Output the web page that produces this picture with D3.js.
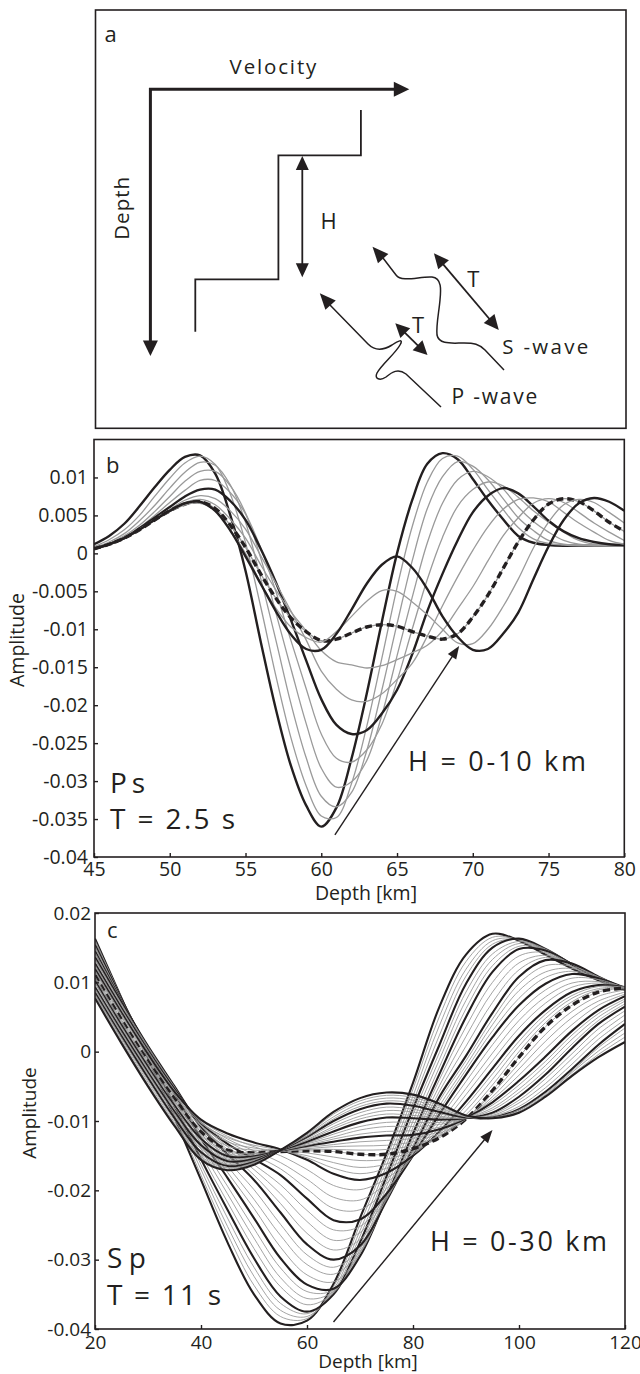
<!doctype html>
<html>
<head>
  <meta charset="utf8">
  <title>Ps and Sp waveforms across a velocity gradient</title>
  <style>
    body {
      margin: 0;
      padding: 0;
      background: #fff;
    }
    svg {
      display: block;
      font-family: 'Open Sans', sans-serif;
    }
  </style>
</head>
<body>
  <svg id="chart"></svg>

  <script src="https://cdn.jsdelivr.net/npm/d3@7"></script>
  <script>
    // Amplitudes are kept in units of 0.001

    // b: Ps, T = 2.5 s, one curve per gradient thickness H (km)
    const psDepth = [45, 46, 47, 48, 49, 50, 51, 52, 53, 54, 55, 56, 57, 58, 59, 60, 61, 62,
      63, 64, 65, 66, 67, 68, 69, 70, 71, 72, 73, 74, 75, 76, 77, 78, 79, 80]
    const psH = [0, 1, 2, 3, 4, 5, 6, 7, 8, 9, 10]
    const psAmp = [
      [1.2, 2.3, 3.9, 6.2, 8.7, 11.0, 12.7, 12.9, 10.5, 5.0, -2.3, -11.6, -20.5, -28, -33.2, -36, -33.5, -27, -18.5, -9, 0, 7, 11.8, 13.2, 12.4, 9.8, 7.0, 4.5, 2.3, 1.4, 1.1, 1.0, 1.0, 1.0, 1.0, 1.0],
      [0.9, 1.8, 3.1, 5.0, 7.5, 9.9, 11.9, 12.8, 11.7, 7.8, 1.4, -7.0, -16.1, -24.3, -30.6, -34.6, -34.8, -30.3, -22.8, -13.8, -4.5, 3.5, 9.4, 12.5, 12.8, 11.1, 8.4, 5.8, 3.4, 1.9, 1.3, 1.1, 1.0, 1.0, 1.0, 1.0],
      [0.8, 1.5, 2.6, 4.3, 6.3, 8.6, 10.7, 12.0, 11.6, 9.0, 4.1, -3.3, -11.4, -19.8, -26.9, -32, -33.4, -31.5, -26, -18, -9.3, -1, 5.9, 10.1, 12.1, 11.5, 9.7, 7.2, 4.7, 3.0, 1.7, 1.2, 1.1, 1.0, 1.0, 1.0],
      [0.7, 1.3, 2.3, 3.7, 5.5, 7.5, 9.5, 10.8, 10.8, 8.9, 5.3, -0.6, -7.8, -15.2, -22.4, -28.3, -30.8, -30.1, -27.3, -21.3, -13.5, -5.8, 1.4, 6.6, 9.7, 10.8, 10.1, 8.5, 6.1, 4.2, 2.8, 1.7, 1.2, 1.1, 1.0, 1.0],
      [0.6, 1.2, 2.1, 3.4, 5.0, 6.7, 8.3, 9.6, 9.6, 8, 5.2, 0.7, -5, -11.5, -17.8, -23.8, -27, -27.5, -25.9, -22.5, -16.8, -10, -3.4, 2.1, 6.2, 8.4, 9.4, 8.9, 7.4, 5.6, 4.1, 2.8, 1.7, 1.2, 1.1, 1.0],
      [0.6, 1.2, 2.0, 3.3, 4.7, 6.1, 7.5, 8.4, 8.4, 6.9, 4.4, 0.6, -3.8, -8.8, -14.1, -19.2, -22.6, -23.8, -23.3, -21.1, -18, -13.3, -7.6, -2.7, 1.7, 5.4, 7.6, 8.6, 7.9, 6.2, 4.3, 2.9, 2.0, 1.5, 1.2, 1.1],
      [0.6, 1.2, 2.0, 3.2, 4.5, 5.8, 7.0, 7.6, 7.2, 5.6, 3.2, -0.3, -3.9, -7.6, -11.4, -15.5, -17.9, -19.3, -19.5, -18.5, -16.6, -14.5, -10.9, -6.9, -3.1, 0.4, 3.5, 5.8, 7.1, 7.3, 6.8, 5.4, 4, 2.8, 1.7, 1.2],
      [0.6, 1.2, 2.0, 3.1, 4.4, 5.7, 6.7, 7.1, 6.4, 4.5, 2.0, -1.5, -4.8, -7.7, -10.2, -12.8, -14.3, -14.7, -15.1, -14.8, -14, -13.1, -12.1, -10.2, -7.3, -4.4, -1, 2.3, 4.7, 6.6, 7.2, 6.7, 5.4, 4, 2.8, 1.7],
      [0.6, 1.2, 2.0, 3.1, 4.4, 5.6, 6.5, 6.8, 5.9, 3.7, 0.8, -2.7, -5.9, -8.5, -10.3, -11.5, -11.3, -10.5, -9.7, -9.4, -9.6, -10.3, -10.9, -11.3, -10.6, -8.4, -5.5, -2.0, 1.5, 4.4, 6.5, 7.2, 6.8, 5.6, 4.1, 2.9],
      [0.6, 1.2, 2.0, 3.1, 4.4, 5.5, 6.4, 6.6, 5.6, 3.1, 0, -3.9, -7.2, -9.7, -11.1, -11.7, -10.3, -8.3, -6.3, -4.9, -5.0, -6.4, -8.1, -10, -11.8, -11.9, -10, -7, -3.4, 0.7, 4.1, 6.4, 7.1, 6.7, 5.4, 4],
      [0.6, 1.2, 2.0, 3.1, 4.4, 5.6, 6.6, 6.8, 5.6, 3.0, -0.4, -4.0, -7.6, -10.7, -12.6, -12.7, -10.6, -7.4, -4.0, -1.5, -0.4, -1.9, -4.7, -8.3, -11.0, -12.7, -12.6, -10.6, -7.8, -3.4, 0.9, 4.4, 6.6, 7.3, 6.8, 5.6]
    ]
    const psBold = [0, 5, 10]
    const psDashed = 8
    const psXTicks = [45, 50, 55, 60, 65, 70, 75, 80]
    const psYTicks = [-40, -35, -30, -25, -20, -15, -10, -5, 0, 5, 10]

    // c: Sp, T = 11 s, H = 0..30 km
    const spDepth = [20, 25, 30, 35, 40, 45, 50, 55, 60, 65, 70, 75, 80, 85, 90, 95, 100, 105, 110, 115, 120]
    const spH = [0, 0.75, 1.5, 2.25, 3, 3.75, 4.5, 5.25, 6, 6.75, 7.5, 8.25, 9, 9.75, 10.5, 11.25,
      12, 12.75, 13.5, 14.25, 15, 15.75, 16.5, 17.25, 18, 18.75, 19.5, 20.25, 21, 21.75, 22.5,
      23.25, 24, 24.75, 25.5, 26.25, 27, 27.75, 28.5, 29.25, 30]
    const spAmp = [
      [16.3, 7.7, -0.9, -9.5, -18.5, -27.5, -35, -39.2, -38.8, -33.5, -24, -14.7, -4.5, 6.5, 14, 17, 16, 14, 12, 10.3, 8.9],
      [16.1, 7.7, -0.7, -9.1, -17.8, -26.3, -33.7, -38.2, -38.5, -33.9, -24.9, -15.5, -5.4, 5.1, 13, 16.5, 16.1, 14.2, 12.2, 10.4, 8.9],
      [15.9, 7.7, -0.5, -8.7, -17, -25.2, -32.4, -37.3, -38.2, -34.3, -25.8, -16.4, -6.4, 3.8, 11.9, 16, 16.2, 14.4, 12.3, 10.5, 9.0],
      [15.6, 7.6, -0.2, -8.2, -16.3, -24, -31.1, -36.3, -37.8, -34.6, -26.6, -17.2, -7.3, 2.4, 10.9, 15.5, 16.2, 14.6, 12.5, 10.5, 9.0],
      [15.4, 7.6, 0.0, -7.8, -15.5, -22.8, -29.8, -35.3, -37.5, -35, -27.5, -18, -8.2, 1, 9.8, 15, 16.3, 14.8, 12.6, 10.6, 9],
      [15.2, 7.5, 0.1, -7.4, -14.8, -21.7, -28.4, -33.9, -36.5, -34.8, -28, -18.8, -9.1, -0.1, 8.6, 14.1, 15.9, 14.8, 12.6, 10.6, 9],
      [15.0, 7.5, 0.3, -6.9, -14, -20.5, -26.9, -32.6, -35.6, -34.6, -28.5, -19.5, -10, -1.1, 7.4, 13.3, 15.6, 14.7, 12.6, 10.6, 9],
      [14.7, 7.4, 0.4, -6.5, -13.3, -19.4, -25.5, -31.2, -34.6, -34.4, -29, -20.3, -10.9, -2.2, 6.2, 12.4, 15.2, 14.7, 12.6, 10.6, 9],
      [14.5, 7.3, 0.5, -6, -12.5, -18.2, -24, -29.8, -33.6, -34.2, -29.5, -21, -11.8, -3.2, 5, 11.5, 14.8, 14.6, 12.6, 10.6, 9],
      [14.3, 7.3, 0.6, -5.8, -12.1, -17.4, -22.6, -28.2, -32.2, -33.2, -29.1, -21.1, -12.4, -4.0, 3.6, 10, 13.8, 14.3, 12.6, 10.7, 9],
      [14.1, 7.2, 0.7, -5.5, -11.7, -16.5, -21.3, -26.5, -30.7, -32.1, -28.8, -21.3, -12.9, -4.9, 2.2, 8.6, 12.8, 13.9, 12.7, 10.7, 9],
      [13.8, 7.2, 0.7, -5.3, -11.2, -15.7, -19.9, -24.9, -29.3, -31.1, -28.4, -21.4, -13.5, -5.7, 0.8, 7.1, 11.8, 13.6, 12.7, 10.8, 9],
      [13.6, 7.1, 0.8, -5, -10.8, -14.8, -18.5, -23.2, -27.8, -30, -28, -21.5, -14, -6.5, -0.6, 5.6, 10.8, 13.2, 12.7, 10.8, 9],
      [13.4, 6.9, 0.7, -5.1, -10.7, -14.4, -17.8, -21.9, -26.2, -28.6, -27.1, -21.3, -14.3, -7.1, -1.3, 4.7, 9.8, 12.4, 12.3, 10.8, 9.1],
      [13.2, 6.7, 0.5, -5.2, -10.6, -14.1, -17, -20.5, -24.5, -27.2, -26.1, -21, -14.5, -7.8, -2.0, 3.9, 8.8, 11.5, 12.0, 10.7, 9.1],
      [12.9, 6.5, 0.4, -5.3, -10.4, -13.7, -16.3, -19.2, -22.9, -25.7, -25.2, -20.8, -14.8, -8.4, -2.6, 3.0, 7.7, 10.7, 11.6, 10.7, 9.2],
      [12.7, 6.3, 0.2, -5.4, -10.3, -13.3, -15.5, -17.8, -21.2, -24.3, -24.2, -20.5, -15, -9, -3.3, 2.1, 6.7, 9.8, 11.2, 10.6, 9.2],
      [12.5, 6.1, 0.1, -5.5, -10.2, -12.9, -14.9, -16.9, -19.8, -22.6, -22.8, -19.8, -15, -9.6, -4.3, 1.0, 5.6, 8.9, 10.6, 10.4, 9.2],
      [12.3, 6.0, -0.1, -5.6, -10.1, -12.6, -14.3, -16.0, -18.4, -21.0, -21.4, -19, -15, -10.3, -5.3, -0.2, 4.5, 7.9, 9.9, 10.1, 9.3],
      [12.1, 5.8, -0.3, -5.7, -9.9, -12.2, -13.7, -15.0, -17, -19.3, -19.9, -18.3, -15, -10.9, -6.2, -1.3, 3.4, 7.0, 9.3, 9.9, 9.3],
      [11.9, 5.6, -0.4, -5.8, -9.8, -11.8, -13.1, -14.1, -15.6, -17.6, -18.5, -17.5, -15, -11.5, -7.2, -2.4, 2.3, 6, 8.6, 9.6, 9.3],
      [11.7, 5.4, -0.7, -6.1, -10.3, -12.4, -13.5, -14.2, -15.3, -16.8, -17.6, -16.8, -14.8, -11.7, -7.8, -3.2, 1.5, 5.4, 8.1, 9.4, 9.3],
      [11.5, 5.1, -0.9, -6.3, -10.7, -13, -13.9, -14.3, -15.0, -16, -16.7, -16.2, -14.5, -12.0, -8.5, -4, 0.8, 4.8, 7.7, 9.1, 9.3],
      [11.2, 4.9, -1.2, -6.6, -11.2, -13.6, -14.2, -14.3, -14.6, -15.2, -15.7, -15.5, -14.3, -12.2, -9.1, -4.8, 0.0, 4.2, 7.2, 8.9, 9.2],
      [11.0, 4.6, -1.4, -6.8, -11.6, -14.2, -14.6, -14.4, -14.3, -14.4, -14.8, -14.8, -14, -12.4, -9.7, -5.6, -0.8, 3.6, 6.7, 8.6, 9.2],
      [10.8, 4.4, -1.6, -7.1, -11.9, -14.4, -14.7, -14.4, -14.1, -14.1, -14.2, -14.1, -13.5, -12.1, -9.7, -6.0, -1.7, 2.5, 5.8, 8.0, 8.9],
      [10.6, 4.2, -1.8, -7.3, -12.1, -14.7, -14.9, -14.4, -14.0, -13.7, -13.6, -13.5, -13, -11.8, -9.7, -6.5, -2.5, 1.5, 4.9, 7.3, 8.6],
      [10.4, 4.0, -2.0, -7.6, -12.4, -14.9, -15.0, -14.3, -13.8, -13.4, -13, -12.8, -12.5, -11.5, -9.6, -6.9, -3.4, 0.4, 3.9, 6.7, 8.3],
      [10.2, 3.8, -2.2, -7.8, -12.6, -15.1, -15.1, -14.3, -13.6, -13, -12.4, -12.1, -12, -11.2, -9.6, -7.3, -4.2, -0.7, 3, 6, 8],
      [10.0, 3.6, -2.4, -8.0, -12.8, -15.3, -15.2, -14.3, -13.5, -12.6, -11.9, -11.5, -11.4, -10.9, -9.6, -7.7, -4.8, -1.4, 2.4, 5.5, 7.6],
      [9.8, 3.4, -2.6, -8.3, -13.1, -15.5, -15.3, -14.3, -13.3, -12.3, -11.3, -10.8, -10.8, -10.5, -9.6, -8.1, -5.4, -2, 1.8, 5, 7.3],
      [9.5, 3.2, -2.8, -8.5, -13.3, -15.6, -15.4, -14.2, -13.2, -11.9, -10.8, -10.2, -10.2, -10.2, -9.6, -8.4, -5.9, -2.7, 1.1, 4.5, 6.9],
      [9.3, 3.0, -3.0, -8.7, -13.5, -15.8, -15.5, -14.2, -13, -11.5, -10.2, -9.5, -9.6, -9.8, -9.6, -8.8, -6.5, -3.3, 0.5, 4, 6.5],
      [9.1, 2.8, -3.2, -8.9, -13.8, -16.0, -15.6, -14.2, -12.8, -11.1, -9.7, -9, -9.2, -9.5, -9.6, -9.0, -7.0, -3.9, -0.3, 3.3, 5.9],
      [8.9, 2.6, -3.4, -9.2, -14, -16.2, -15.7, -14.2, -12.7, -10.8, -9.3, -8.5, -8.7, -9.3, -9.6, -9.2, -7.4, -4.6, -1, 2.5, 5.3],
      [8.7, 2.4, -3.6, -9.4, -14.3, -16.3, -15.8, -14.2, -12.5, -10.4, -8.8, -8, -8.3, -9.0, -9.5, -9.3, -7.9, -5.2, -1.8, 1.8, 4.6],
      [8.5, 2.2, -3.8, -9.6, -14.5, -16.5, -15.9, -14.2, -12.3, -10, -8.3, -7.5, -7.8, -8.7, -9.5, -9.5, -8.3, -5.8, -2.5, 1, 4],
      [8.3, 2.0, -4.1, -9.9, -14.8, -16.7, -16, -14.2, -12.2, -9.7, -7.9, -7.1, -7.4, -8.4, -9.4, -9.5, -8.4, -6.0, -2.8, 0.6, 3.4],
      [8.1, 1.7, -4.4, -10.2, -15.1, -16.8, -16.1, -14.2, -12, -9.4, -7.5, -6.7, -7, -8.1, -9.4, -9.6, -8.6, -6.2, -3, 0.1, 2.7],
      [7.9, 1.5, -4.7, -10.4, -15.3, -17.0, -16.2, -14.2, -11.9, -9.0, -7.1, -6.3, -6.6, -7.8, -9.3, -9.6, -8.7, -6.3, -3.3, -0.4, 2.1],
      [7.7, 1.2, -5, -10.7, -15.6, -17.1, -16.3, -14.2, -11.7, -8.7, -6.7, -5.9, -6.2, -7.5, -9.2, -9.6, -8.8, -6.5, -3.5, -0.8, 1.4]
    ]
    const spBold = [0, 3, 6, 9, 12, 15, 21, 24, 27, 30]
    const spDashed = 18
    const spXTicks = [20, 40, 60, 80, 100, 120]
    const spYTicks = [-40, -30, -20, -10, 0, 10, 20]

    const ink = '#231f20'
    const grey = '#9a9a9a'

    const svg = d3.select('#chart')
      .attr('width', 640)
      .attr('height', 1374)

    // filled arrow head at (x2, y2), pointing away from (x1, y1)
    function head (g, x1, y1, x2, y2, len, half) {
      const a = Math.atan2(y2 - y1, x2 - x1)
      const bx = x2 - len * Math.cos(a)
      const by = y2 - len * Math.sin(a)
      const nx = -Math.sin(a) * half
      const ny = Math.cos(a) * half
      g.append('path')
        .attr('d', `M${x2},${y2}L${bx + nx},${by + ny}L${bx - nx},${by - ny}Z`)
        .attr('fill', ink)
    }

    function arrow (g, x1, y1, x2, y2, opts) {
      const { width, len, half, both } = opts
      const a = Math.atan2(y2 - y1, x2 - x1)
      const trim = len * 0.7
      const sx = both ? x1 + trim * Math.cos(a) : x1
      const sy = both ? y1 + trim * Math.sin(a) : y1
      g.append('line')
        .attr('x1', sx).attr('y1', sy)
        .attr('x2', x2 - trim * Math.cos(a)).attr('y2', y2 - trim * Math.sin(a))
        .attr('stroke', ink)
        .attr('stroke-width', width)
      head(g, x1, y1, x2, y2, len, half)
      if (both) head(g, x2, y2, x1, y1, len, half)
    }

    function label (g, txt, x, y, size, length) {
      const t = g.append('text')
        .attr('x', x)
        .attr('y', y)
        .attr('font-size', size)
        .attr('fill', ink)
        .text(txt)
      if (length) t.attr('textLength', length).attr('lengthAdjust', 'spacing')
      return t
    }

    // ---- a: schematic ----
    const ga = svg.append('g')
    ga.append('rect')
      .attr('x', 95.5).attr('y', 10)
      .attr('width', 530.5).attr('height', 418.3)
      .attr('fill', 'none')
      .attr('stroke', ink)
      .attr('stroke-width', 1.6)

    label(ga, 'a', 104.5, 41.5, 22)
    label(ga, 'Velocity', 229.6, 73.5, 20.5, 86.7)
    ga.append('text')
      .attr('transform', 'translate(129,208.3) rotate(-90)')
      .attr('text-anchor', 'middle')
      .attr('font-size', 20.5)
      .attr('fill', ink)
      .attr('textLength', 63)
      .attr('lengthAdjust', 'spacing')
      .text('Depth')

    ga.append('path')
      .attr('d', 'M150.4,352L150.4,89.3L395,89.3')
      .attr('fill', 'none')
      .attr('stroke', ink)
      .attr('stroke-width', 3)
    head(ga, 150.4, 300, 150.4, 356, 15.5, 7.5)
    head(ga, 350, 89.3, 409.3, 89.3, 15.5, 7.5)

    ga.append('path')
      .attr('d', 'M195.3,331.7V279.3H278.4V155.3H360.9V110')
      .attr('fill', 'none')
      .attr('stroke', ink)
      .attr('stroke-width', 1.8)

    arrow(ga, 302.3, 156, 302.3, 277.3, { width: 1.8, len: 14, half: 6.5, both: true })
    label(ga, 'H', 320.5, 229.3, 22)

    // P-wave
    ga.append('path')
      .attr('d', 'M330,305 L368,344 C376,352 384,350 392,345 C398,341 404,338 400,345 C395,354 382,364 377,373 C374,379 380,381 386,377 C392,372 398,368 406,374 L441,407')
      .attr('fill', 'none')
      .attr('stroke', ink)
      .attr('stroke-width', 1.5)
    head(ga, 335, 310, 319.8, 293.3, 16, 7)
    arrow(ga, 395.3, 323.3, 427.5, 355, { width: 1.8, len: 14, half: 7, both: true })
    label(ga, 'T', 412, 333.3, 22)
    label(ga, 'P -wave', 451.4, 404, 21, 86)

    // S-wave
    ga.append('path')
      .attr('d', 'M383,258 L396,275 C402,283 420,276 432,277 C442,278 441,290 440,300 C439,312 436,325 437,335 C439,345 452,343 464,343 C474,343 479,344 485,350 L504,370')
      .attr('fill', 'none')
      .attr('stroke', ink)
      .attr('stroke-width', 1.5)
    head(ga, 388, 264, 372.5, 246.7, 16, 7)
    arrow(ga, 433.9, 253.3, 498.8, 330, { width: 1.8, len: 15, half: 7, both: true })
    label(ga, 'T', 467.2, 286.7, 22)
    label(ga, 'S -wave', 502.3, 354, 20.5, 86)

    // ---- b and c: waveform panels ----
    function panel (p) {
      const x = d3.scaleLinear().domain(p.xDomain).range([p.left, p.right])
      const y = d3.scaleLinear().domain(p.yDomain).range([p.bottom, p.top])
      const g = svg.append('g')

      svg.append('clipPath')
        .attr('id', 'clip-' + p.name)
        .append('rect')
        .attr('x', p.left).attr('y', p.top)
        .attr('width', p.right - p.left).attr('height', p.bottom - p.top)

      const line = d3.line()
        .x((d, i) => x(p.depth[i]))
        .y(d => y(d))
        .curve(d3.curveCatmullRom.alpha(0.5))

      const lines = g.append('g').attr('clip-path', `url(#clip-${p.name})`)

      // drawn in order of H, so later thin lines can cross over earlier bold ones
      p.h.forEach((h, i) => {
        const bold = p.bold.includes(h)
        lines.append('path')
          .attr('d', line(p.amp[i]))
          .attr('fill', 'none')
          .attr('stroke', bold ? ink : grey)
          .attr('stroke-width', bold ? p.boldWidth : p.thinWidth)
        if (h === p.dashed) {
          lines.append('path')
            .attr('d', line(p.amp[i]))
            .attr('fill', 'none')
            .attr('stroke', ink)
            .attr('stroke-width', p.dashWidth)
            .attr('stroke-dasharray', p.dashArray)
        }
      })

      const fmt = d => d === 0 ? '0' : String(d / 1000)

      const yAxis = g.append('g')
        .attr('transform', `translate(${p.left},0)`)
        .call(d3.axisLeft(y).tickValues(p.yTicks).tickSize(-4).tickPadding(p.yPad).tickFormat(fmt))
      const xAxis = g.append('g')
        .attr('transform', `translate(0,${p.bottom})`)
        .call(d3.axisBottom(x).tickValues(p.xTicks).tickSize(-4).tickPadding(p.xPad))

      ;[yAxis, xAxis].forEach(ax => {
        ax.select('.domain').remove()
        ax.selectAll('line').attr('stroke', ink).attr('stroke-width', 1.4)
        ax.selectAll('text')
          .attr('font-size', p.tickSize)
          .attr('font-family', "'Open Sans', sans-serif")
          .attr('fill', ink)
      })

      g.append('rect')
        .attr('x', p.left).attr('y', p.top)
        .attr('width', p.right - p.left).attr('height', p.bottom - p.top)
        .attr('fill', 'none')
        .attr('stroke', ink)
        .attr('stroke-width', 1.6)

      g.append('text')
        .attr('x', p.xTitle[0]).attr('y', p.xTitle[1])
        .attr('text-anchor', 'middle')
        .attr('font-size', p.titleSize)
        .attr('fill', ink)
        .text('Depth [km]')
      g.append('text')
        .attr('transform', `translate(${p.yTitle[0]},${p.yTitle[1]}) rotate(-90)`)
        .attr('text-anchor', 'middle')
        .attr('font-size', p.titleSize)
        .attr('fill', ink)
        .text('Amplitude')

      const [fx, fy] = p.arrow[0]
      const [tx, ty] = p.arrow[1]
      arrow(g, x(fx), y(fy), x(tx), y(ty), { width: 1.4, len: 13, half: 5, both: false })

      p.notes.forEach(n => label(g, n.text, n.x, n.y, n.size, n.length))
    }

    panel({
      name: 'ps',
      depth: psDepth, h: psH, amp: psAmp, bold: psBold, dashed: psDashed,
      xTicks: psXTicks, yTicks: psYTicks,
      xDomain: [45, 80], yDomain: [-40, 15],
      left: 94, right: 624.3, top: 439.5, bottom: 857,
      boldWidth: 2.4, thinWidth: 1.3, dashWidth: 3.4, dashArray: '7,4',
      tickSize: 19.5, titleSize: 19.5, yPad: 6, xPad: 5,
      xTitle: [366, 900], yTitle: [24, 640],
      arrow: [[60.9, -37.1], [69.1, -12.2]],
      notes: [
        { text: 'b', x: 106, y: 473, size: 22 },
        { text: 'P s', x: 110, y: 793, size: 28, length: 35 },
        { text: 'T = 2.5 s', x: 110, y: 829, size: 28, length: 125 },
        { text: 'H = 0-10 km', x: 408, y: 771, size: 27, length: 178 }
      ]
    })

    panel({
      name: 'sp',
      depth: spDepth, h: spH, amp: spAmp, bold: spBold, dashed: spDashed,
      xTicks: spXTicks, yTicks: spYTicks,
      xDomain: [20, 120], yDomain: [-40, 20],
      left: 95, right: 625, top: 913, bottom: 1329,
      boldWidth: 2.1, thinWidth: 0.9, dashWidth: 3.4, dashArray: '7,4',
      tickSize: 19, titleSize: 19, yPad: 4, xPad: 6,
      xTitle: [368, 1367.5], yTitle: [36, 1113],
      arrow: [[65, -39], [95, -11.3]],
      notes: [
        { text: 'c', x: 107, y: 938, size: 22 },
        { text: 'S p', x: 107, y: 1268, size: 28, length: 39 },
        { text: 'T = 11 s', x: 107, y: 1305, size: 28, length: 114 },
        { text: 'H = 0-30 km', x: 430, y: 1251, size: 27, length: 177 }
      ]
    })
  </script>
</body>
</html>
